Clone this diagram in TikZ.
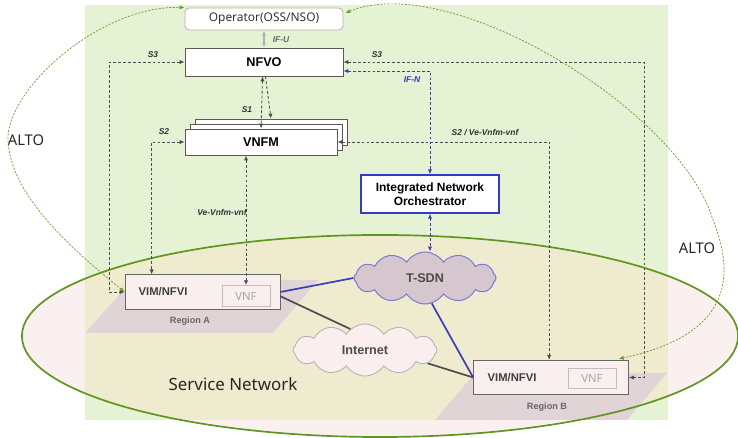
\documentclass[tikz,border=0pt]{standalone}
\usepackage{fontspec}
\setmainfont{Liberation Sans}
\newfontfamily\lightfont{Noto Sans}
\usetikzlibrary{arrows.meta, calc, shapes.symbols}

\definecolor{bggreen}{RGB}{230,242,212}
\definecolor{netpink}{RGB}{250,240,240}
\definecolor{netyellow}{RGB}{239,235,207}
\definecolor{netgreen}{RGB}{95,150,30}
\definecolor{altogreen}{RGB}{105,160,45}
\definecolor{regiongray}{RGB}{224,212,215}
\definecolor{vimfill}{RGB}{249,239,239}
\definecolor{linkblue}{RGB}{60,60,190}
\definecolor{ifblue}{RGB}{50,60,200}
\definecolor{sdnfill}{RGB}{214,199,206}
\definecolor{sdnline}{RGB}{120,120,215}
\definecolor{inetfill}{RGB}{251,238,238}

\begin{document}
\begin{tikzpicture}[x=0.025cm, y=-0.025cm,
  >={Latex[length=3.5pt,width=3pt]},
  box/.style={draw=black!65, fill=white, line width=0.6pt,
    minimum width=3.95cm, minimum height=0.7cm, inner sep=0pt,
    font=\bfseries\fontsize{9}{10}\selectfont},
  vnfmbox/.style={box, minimum width=3.8cm, minimum height=0.65cm},
  vimbox/.style={draw=black!60, fill=vimfill, line width=0.6pt,
    minimum width=3.87cm, minimum height=0.86cm, inner sep=0pt},
  vnfbox/.style={draw=black!25, fill=vimfill, line width=0.6pt,
    minimum width=1.2cm, minimum height=0.52cm, inner sep=0pt,
    text=black!35, font=\lightfont\fontsize{8}{9}\selectfont},
  vimtext/.style={text=black!75, font=\bfseries\fontsize{8}{9}\selectfont},
  regiontext/.style={text=black!60, font=\bfseries\fontsize{6.5}{7}\selectfont},
  iflabel/.style={text=black!80, font=\bfseries\itshape\fontsize{6}{7}\selectfont},
  sdash/.style={draw=black!70, line width=0.6pt, dash pattern=on 2pt off 1.5pt},
  bdash/.style={draw=ifblue, line width=0.6pt, dash pattern=on 2pt off 1.5pt},
  alto/.style={draw=altogreen, line width=0.5pt, dash pattern=on 1.5pt off 1pt},
  netcloud/.style={cloud, cloud puffs=12, cloud puff arc=115, aspect=2.7,
    inner sep=0pt, font=\bfseries\fontsize{9}{10}\selectfont, text=black!70}]

  \useasboundingbox (0,0) rectangle (738,438);

  % fondo verde y red de servicio
  \fill[bggreen] (85,5) rectangle (668,420);
  \fill[netpink] (380,336) ellipse [x radius=8.95cm, y radius=2.525cm];
  \begin{scope}
    \clip (380,336) ellipse [x radius=8.95cm, y radius=2.525cm];
    \fill[netyellow] (85,5) rectangle (668,420);
  \end{scope}

  % regiones
  \fill[regiongray] (85,333) -- (273,333) -- (318,280) -- (133,280) -- cycle;
  \fill[regiongray] (435,420) -- (627,420) -- (667,373) -- (475,373) -- cycle;
  \draw[netgreen, line width=1.2pt] (380,336) ellipse [x radius=8.95cm, y radius=2.525cm];

  % cajas de gestion
  \node[box, draw=black!30, rounded corners=3pt, minimum height=0.55cm,
    font=\lightfont\fontsize{8.5}{10}\selectfont, text=black!80] (op) at (264,19) {Operator(OSS/NSO)};
  \node[box] (nfvo) at (264,62) {NFVO};
  \node[vnfmbox] (vnfmC) at (271,132) {};
  \node[vnfmbox] (vnfmB) at (266,137) {};
  \node[vnfmbox] (vnfmA) at (261,142) {VNFM};
  \node[box, draw=ifblue, line width=1pt, minimum width=3.45cm, minimum height=0.95cm,
    align=center, font=\bfseries\fontsize{8.5}{10}\selectfont] (ino) at (430,194)
    {Integrated Network\\Orchestrator};

  % nubes
  \node[netcloud, fill=sdnfill, draw=sdnline, line width=0.7pt,
    minimum width=3.55cm, minimum height=1.3cm] (tsdn) at (425,278) {T-SDN};
  \node[netcloud, fill=inetfill, draw=black!30, line width=0.6pt,
    minimum width=3.6cm, minimum height=1.3cm] (inet) at (365,350) {Internet};

  % VIM/NFVI
  \node[vimbox] (vimA) at (202.5,292) {};
  \node[vimtext] (vimAtxt) at (163,292) {VIM/NFVI};
  \node[vnfbox] (vnfA) at (246,296) {VNF};
  \node[regiontext] (regA) at (190,321) {Region A};
  \node[vimbox] (vimB) at (551,377.5) {};
  \node[vimtext] (vimBtxt) at (512,378) {VIM/NFVI};
  \node[vnfbox] (vnfB) at (592,378.5) {VNF};
  \node[regiontext] (regB) at (547,407) {Region B};

  % textos
  \node[font=\lightfont\fontsize{12}{14}\selectfont, text=black!85] (sn) at (233,384) {Service Network};
  \node[font=\lightfont\fontsize{10.5}{12}\selectfont, text=black!85] (altoL) at (26,140) {ALTO};
  \node[font=\lightfont\fontsize{10.5}{12}\selectfont, text=black!85] (altoR) at (697,248) {ALTO};

  % interfaces
  \draw[<->, draw=black!30, line width=1pt] (op.south) -- (nfvo.north);
  \node[iflabel, text=black!60] (lblIFU) at (281,40) {IF-U};
  \draw[sdash, <->] (nfvo.west) -- ++(-75,0) |- (vimA.west);
  \node[iflabel] (lblS3a) at (153,55) {S3};
  \draw[sdash, <->] (nfvo.east) -- ++(301,0) |- (vimB.east);
  \node[iflabel] (lblS3b) at (377,55) {S3};
  \draw[bdash, <->] ($(nfvo.east)+(0,9)$) -| (ino.north);
  \node[iflabel, text=ifblue] (lblIFN) at (412,80) {IF-N};
  \draw[sdash, <->] ([xshift=-1pt]nfvo.south) -- (vnfmA.north);
  \draw[sdash, ->] ([xshift=1pt]nfvo.south) -- (vnfmC.north);
  \node[iflabel] (lblS1) at (247,110) {S1};
  \draw[sdash, <->] (vnfmA.west) -| ($(vimA.north west)+(27,0)$);
  \node[iflabel] (lblS2a) at (164,132) {S2};
  \draw[sdash, <->] (vnfmA.east) -| ($(vimB.north west)+(76,0)$);
  \node[iflabel] (lblS2b) at (485,133) {S2 / Ve-Vnfm-vnf};
  \draw[sdash, <->] (vnfA.north |- vnfmA.south) -- (vnfA.north);
  \node[iflabel] (lblVe) at (222,212) {Ve-Vnfm-vnf};
  \draw[bdash, <->] (ino.south) -- (ino.south |- tsdn.north);

  % enlaces de red
  \draw[linkblue, line width=1.2pt] (vimA.east) -- (tsdn.west);
  \draw[black!70, line width=1.2pt] ([yshift=-3pt]vimA.east) -- (inet.125);
  \draw[black!70, line width=1.2pt] (inet.-12) -- (vimB.west);
  \draw[linkblue, line width=1.2pt] (tsdn.-75) -- (vimB.west);

  % ALTO
  \draw[alto, <->] (vimA.west) .. controls (60,240) and (10,190) .. (8,140)
    .. controls (6,90) and (100,5) .. (op.north west);
  \draw[alto, <->] ($(op.east)+(2,-6)$) .. controls (450,-30) and (680,110) .. (713,220)
    .. controls (745,300) and (705,340) .. ($(vimB.north east)+(-10,-1)$);
\end{tikzpicture}
\end{document}
